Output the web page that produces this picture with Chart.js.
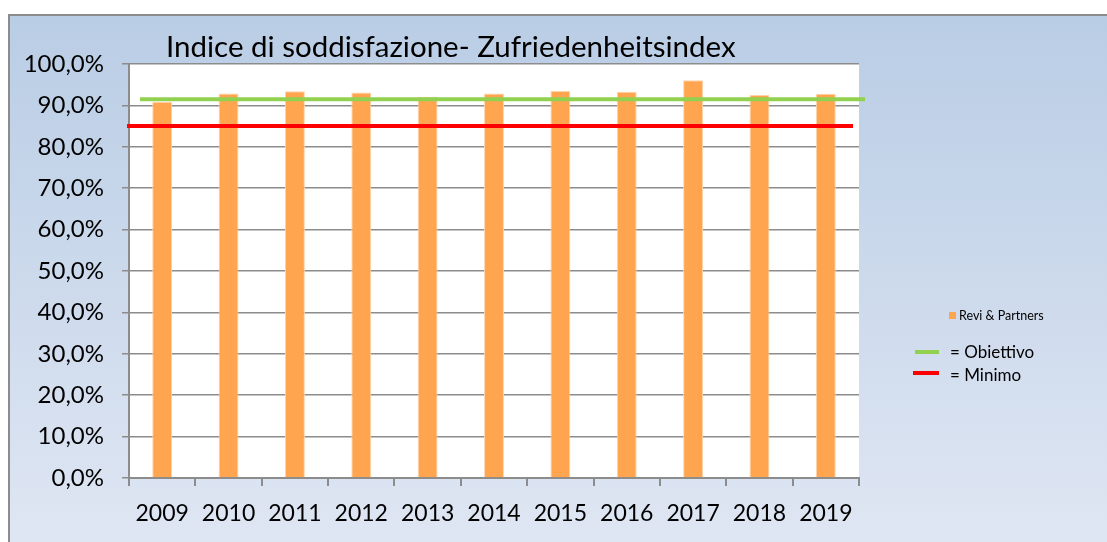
<!DOCTYPE html>
<html>
<head>
<meta charset="utf-8">
<script src="https://cdn.jsdelivr.net/npm/chart.js@4"></script>
<style>
  html, body { margin: 0; padding: 0; background: #fff; }
  #wrap { width: 1107px; height: 542px; }
</style>
</head>
<body>
<div id="wrap"><canvas id="grafico" width="1107" height="542"></canvas></div>
<script>
// dati del grafico
const anni = ['2009', '2010', '2011', '2012', '2013', '2014', '2015', '2016', '2017', '2018', '2019'];
const soddisfazione = [90.9, 92.9, 93.4, 93.1, 92.1, 92.9, 93.5, 93.3, 96.1, 92.5, 92.8];
const obiettivo = [91.5];
const minimo = [85.0];
const tickValori = [0, 10, 20, 30, 40, 50, 60, 70, 80, 90, 100];

const titolo = 'Indice di soddisfazione- Zufriedenheitsindex';
const FONT = 'Lato, "Open Sans", sans-serif';

function formatPerc(v) {
    return v.toFixed(1).replace('.', ',') + '%';
}

// sfondo sfumato + cornice
const sfondoPlugin = {
    id: 'sfondo',
    beforeDraw(chart) {
        const ctx = chart.ctx;
        ctx.save();
        ctx.fillStyle = '#ffffff';
        ctx.fillRect(0, 0, chart.width, chart.height);
        const g = ctx.createLinearGradient(0, 14, 0, chart.height);
        g.addColorStop(0, '#b9cde5');
        g.addColorStop(1, '#dfe6f3');
        ctx.fillStyle = g;
        ctx.fillRect(8, 14, chart.width - 8, chart.height - 14);
        ctx.strokeStyle = '#8c8c8c';
        ctx.lineWidth = 2;
        ctx.beginPath();
        ctx.moveTo(9, chart.height);
        ctx.lineTo(9, 15);
        ctx.lineTo(chart.width, 15);
        ctx.stroke();
        // area del grafico bianca
        const a = chart.chartArea;
        ctx.fillStyle = '#ffffff';
        ctx.fillRect(a.left, a.top, a.right - a.left, a.bottom - a.top);
        ctx.restore();
    }
};

// linee obiettivo / minimo, titolo e legenda
const lineePlugin = {
    id: 'linee',
    afterDatasetsDraw(chart) {
        const ctx = chart.ctx;
        const y = chart.scales.y;
        const a = chart.chartArea;
        ctx.save();
        ctx.lineWidth = 4;
        // obiettivo
        ctx.strokeStyle = '#92d050';
        ctx.beginPath();
        ctx.moveTo(a.left + 11, y.getPixelForValue(obiettivo[0]));
        ctx.lineTo(a.right + 6, y.getPixelForValue(obiettivo[0]));
        ctx.stroke();
        // minimo
        ctx.strokeStyle = '#ff0000';
        ctx.beginPath();
        ctx.moveTo(a.left - 2, y.getPixelForValue(minimo[0]));
        ctx.lineTo(a.right - 6, y.getPixelForValue(minimo[0]));
        ctx.stroke();
        ctx.restore();
    },
    afterDraw(chart) {
        const ctx = chart.ctx;
        ctx.save();
        ctx.fillStyle = '#000000';
        ctx.textBaseline = 'middle';
        ctx.textAlign = 'left';
        ctx.font = '29.5px ' + FONT;
        ctx.fillText(titolo, 166, 47);

        // legenda
        ctx.fillStyle = '#ffa54f';
        ctx.fillRect(949, 312, 7, 7);
        ctx.fillStyle = '#000000';
        ctx.font = '12.5px ' + FONT;
        ctx.fillText(chart.data.datasets[0].label, 959, 316);

        ctx.lineWidth = 4;
        ctx.strokeStyle = '#92d050';
        ctx.beginPath(); ctx.moveTo(915, 352); ctx.lineTo(939, 352); ctx.stroke();
        ctx.strokeStyle = '#ff0000';
        ctx.beginPath(); ctx.moveTo(913, 373); ctx.lineTo(939, 373); ctx.stroke();
        ctx.fillStyle = '#000000';
        ctx.font = '17px ' + FONT;
        ctx.fillText('= Obiettivo', 950, 353);
        ctx.fillText('= Minimo', 950, 376);
        ctx.restore();
    }
};

const ctx = document.getElementById('grafico').getContext('2d');
new Chart(ctx, {
    type: 'bar',
    data: {
        labels: anni,
        datasets: [{
            label: 'Revi & Partners',
            data: soddisfazione,
            backgroundColor: '#ffa54f',
            borderColor: '#ffd3a8',
            borderWidth: 1,
            categoryPercentage: 1,
            barPercentage: 0.3
        }]
    },
    options: {
        responsive: false,
        animation: false,
        devicePixelRatio: 1,
        layout: { padding: { left: 0, top: 64, right: 248, bottom: 0 } },
        plugins: {
            legend: { display: false },
            title: { display: false },
            tooltip: { enabled: false }
        },
        scales: {
            x: {
                afterFit: s => { s.height = 64; },
                grid: { drawOnChartArea: false, drawTicks: true, tickLength: 8, color: '#8c8c8c', lineWidth: 2, offset: true },
                border: { color: '#8c8c8c', width: 2 },
                ticks: { color: '#000', font: { family: FONT, size: 23 }, padding: 14 }
            },
            y: {
                min: 0,
                max: 100,
                afterFit: s => { s.width = 129; },
                afterBuildTicks: s => { s.ticks = tickValori.map(v => ({ value: v })); },
                grid: { color: '#8c8c8c', lineWidth: 1.5, tickLength: 7 },
                border: { color: '#8c8c8c', width: 2 },
                ticks: { color: '#000', font: { family: FONT, size: 24 }, padding: 18, callback: v => formatPerc(v) }
            }
        }
    },
    plugins: [sfondoPlugin, lineePlugin]
});
</script>
</body>
</html>
